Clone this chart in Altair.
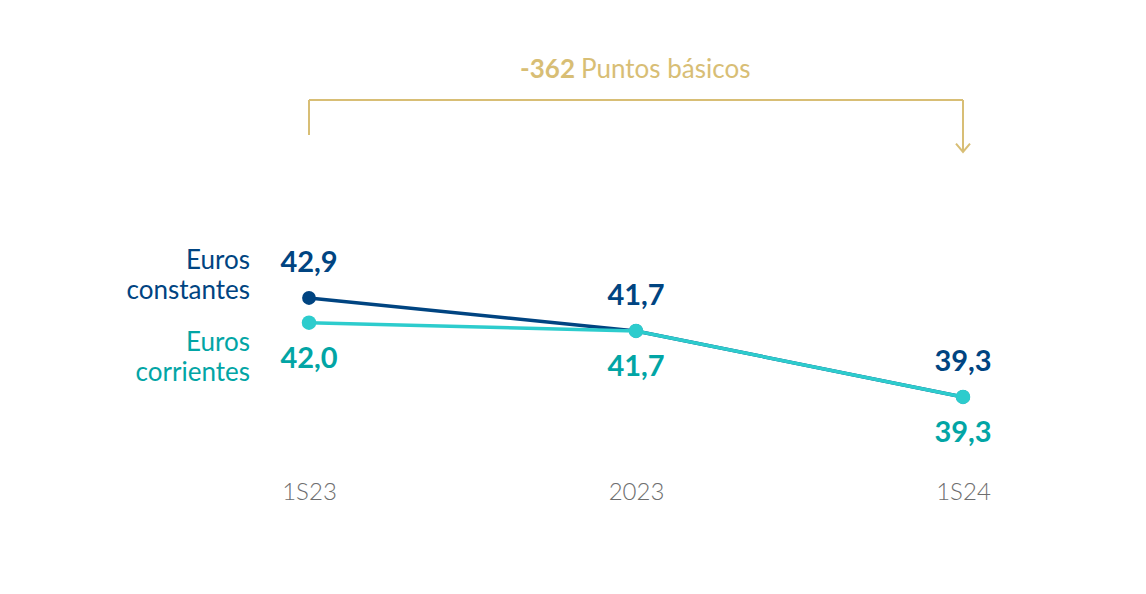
import altair as alt
import pandas as pd

# ---- data ----
periods = ["1S23", "2023", "1S24"]
constantes = [42.9, 41.7, 39.3]
corrientes = [42.0, 41.7, 39.3]
labels_const = ["42,9", "41,7", "39,3"]
labels_corr = ["42,0", "41,7", "39,3"]
legend_const = "Euros\nconstantes"
legend_corr = "Euros\ncorrientes"
change_bp = "-362"
change_text = "Puntos básicos"

FONT = "Lato"
NAVY = "#004481"
CYAN = "#2DCCCD"
TEAL = "#02A5A5"
GOLD = "#D8BE75"
GREY = "#6E6E6E"

df_const = pd.DataFrame({"period": periods, "value": constantes, "label": labels_const})
df_corr = pd.DataFrame({"period": periods, "value": corrientes, "label": labels_corr})
df_leg_const = pd.DataFrame({"period": [periods[0]], "value": [constantes[0]], "t": [legend_const]})
df_leg_corr = pd.DataFrame({"period": [periods[0]], "value": [corrientes[0]], "t": [legend_corr]})
df_bracket = pd.DataFrame({"period": [periods[0]], "period_end": [periods[-1]]})
df_right = pd.DataFrame({"period": [periods[-1]]})
df_left = pd.DataFrame({"period": [periods[0]]})
df_bp = pd.DataFrame({"t": [change_bp]})
df_txt = pd.DataFrame({"t": [change_text]})

X = alt.X(
    "period:N",
    scale=alt.Scale(type="point", domain=periods, range=[301, 955], padding=0),
    axis=alt.Axis(
        title=None, domain=False, ticks=False, grid=False,
        labelFont=FONT, labelFontSize=24, labelFontWeight=300,
        labelColor=GREY, labelPadding=10, labelAngle=0,
    ),
)
Y = alt.Y("value:Q", scale=alt.Scale(domain=[36.645, 53.445], nice=False, zero=False), axis=None)

line_const = alt.Chart(df_const).mark_line(color=NAVY, strokeWidth=3.5).encode(x=X, y=Y)
pts_const = alt.Chart(df_const).mark_point(filled=True, opacity=1, color=NAVY, size=190).encode(x=X, y=Y)
lab_const = alt.Chart(df_const).mark_text(
    font=FONT, fontSize=29, fontWeight="bold", color=NAVY, dy=-35, baseline="middle"
).encode(x=X, y=Y, text="label:N")

line_corr = alt.Chart(df_corr).mark_line(color=CYAN, strokeWidth=3.5).encode(x=X, y=Y)
pts_corr = alt.Chart(df_corr).mark_point(filled=True, opacity=1, color=CYAN, size=210).encode(x=X, y=Y)
lab_corr = alt.Chart(df_corr).mark_text(
    font=FONT, fontSize=29, fontWeight="bold", color=TEAL, dy=36, baseline="middle"
).encode(x=X, y=Y, text="label:N")

leg_const = alt.Chart(df_leg_const).mark_text(
    font=FONT, fontSize=26, color=NAVY, align="right", baseline="middle",
    lineBreak="\n", lineHeight=30, dx=-59, dy=-37,
).encode(x=X, y=Y, text="t:N")
leg_corr = alt.Chart(df_leg_corr).mark_text(
    font=FONT, fontSize=26, color=TEAL, align="right", baseline="middle",
    lineBreak="\n", lineHeight=30, dx=-59, dy=20,
).encode(x=X, y=Y, text="t:N")

# bracket annotation
br_h = alt.Chart(df_bracket).mark_rule(color=GOLD, strokeWidth=2).encode(
    x=X, x2="period_end:N", y=alt.value(92)
)
br_l = alt.Chart(df_left).mark_rule(color=GOLD, strokeWidth=2).encode(
    x=X, y=alt.value(92), y2=alt.value(127)
)
br_r = alt.Chart(df_right).mark_rule(color=GOLD, strokeWidth=2).encode(
    x=X, y=alt.value(92), y2=alt.value(144)
)
arrow = alt.Chart(df_right).mark_point(
    shape="M-1,-1.2L0,0L1,-1.2", filled=False, color=GOLD, strokeWidth=2, size=196, opacity=1
).encode(x=X, y=alt.value(144))

t_bp = alt.Chart(df_bp).mark_text(
    font=FONT, fontSize=26, fontWeight="bold", color=GOLD, align="right", baseline="middle"
).encode(x=alt.value(567), y=alt.value(62), text="t:N")
t_txt = alt.Chart(df_txt).mark_text(
    font=FONT, fontSize=26, color=GOLD, align="left", baseline="middle"
).encode(x=alt.value(573), y=alt.value(62), text="t:N")

chart = alt.layer(
    br_h, br_l, br_r, arrow, t_bp, t_txt,
    line_const, pts_const, line_corr, pts_corr,
    lab_const, lab_corr, leg_const, leg_corr,
).properties(width=1130, height=462, padding=0).configure_view(stroke=None)

chart.save("out.html", embed_options={"renderer": "svg", "actions": False})
